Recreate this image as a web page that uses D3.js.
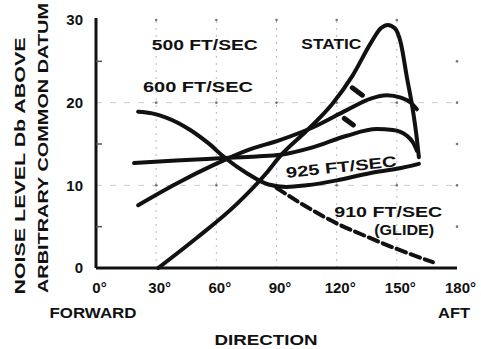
<!DOCTYPE html>
<html>
<head>
<meta charset="utf-8">
<script src="https://cdn.jsdelivr.net/npm/d3@7"></script>
<style>
  body { margin: 0; background: #fff; }
  text { font-family: "Liberation Sans", Arial, sans-serif; font-weight: bold; fill: #111; }
</style>
</head>
<body>
<svg id="chart" width="481" height="349"></svg>
<script>
'use strict';

// direction (deg) vs noise level (dB)
const staticCurve = [[31,0],[50,3.6],[70,7.7],[85,11.5],[92,13.6],[105,16.6],[118,19.9],[128,23.3],[137,27.2],[142,29],[145.5,29.4],[149,29],[152,27.2],[155,23.1],[158,19.1],[160,15.6],[161,13.4]];
const speed500 = [[21,7.6],[40,10.2],[59,12.5],[75,14.2],[92,15.5],[108,17],[125,19.1],[137,20.5],[145,20.9],[152,20.6],[157,20],[160,19.2]];
const speed600 = [[19,12.7],[40,13],[64,13.3],[80,13.5],[92,13.7],[108,14.6],[125,16],[140,16.8],[148,16.7],[155,16],[158,15.2],[160,14.2]];
const speed925 = [[21,18.9],[28,18.7],[35,18.2],[47,16.7],[56,15.1],[64,13.4],[75,11.5],[86,10.1],[95,9.8],[105,10],[120,10.6],[137,11.5],[150,12],[161,12.6]];
const glide910 = [[90,9.7],[105,7.4],[120,5.4],[135,3.8],[150,2.3],[168,0.7]];

const xTicks = [0, 30, 60, 90, 120, 150, 180];
const yTicks = [0, 10, 20, 30];
const gridX = [30, 60, 90, 120, 150];
const gridY = [10, 20];

let svg = d3.select("#chart");

let x = d3.scaleLinear().domain([0, 180]).range([96, 457]),
    y = d3.scaleLinear().domain([0, 30]).range([268, 20]);

// dotted grid
let grid = svg.append("g").attr("class", "grid");
grid.selectAll("line.gx").data(gridX).enter().append("line")
    .attr("x1", d => x(d)).attr("x2", d => x(d))
    .attr("y1", y(0)).attr("y2", y(30))
    .style("stroke", "#bbb").style("stroke-width", 1)
    .style("stroke-dasharray", "2,5");
grid.selectAll("line.gy").data(gridY).enter().append("line")
    .attr("x1", x(0)).attr("x2", x(180))
    .attr("y1", d => y(d)).attr("y2", d => y(d))
    .style("stroke", "#ccc").style("stroke-width", 1)
    .style("stroke-dasharray", "6,8");

// dots where the grid crosses and along top / right edge
let dots = [];
gridX.forEach(function(g) { [10, 20, 30].forEach(v => dots.push([g, v])); });
[5, 10, 15, 20, 25].forEach(v => dots.push([180, v]));
grid.selectAll("circle").data(dots).enter().append("circle")
    .attr("cx", d => x(d[0])).attr("cy", d => y(d[1]))
    .attr("r", 1.3).attr("fill", "#777");

// axes
let xAxis = d3.axisBottom(x).tickValues(xTicks).tickSize(0).tickPadding(14)
    .tickFormat(d => d + "°");
let gx = svg.append("g").attr("transform", "translate(0," + y(0) + ")").call(xAxis);
gx.select(".domain").attr("d", "M" + x(0) + ",0H" + x(180))
    .style("stroke", "#111").style("stroke-width", 3);
gx.selectAll("text").style("font-size", "15px").attr("dx", "3").attr("dy", "0.72em");

let yAxis = d3.axisLeft(y).tickValues(yTicks).tickSize(0).tickPadding(13)
    .tickFormat(d3.format("d"));
let gy = svg.append("g").attr("transform", "translate(" + x(0) + ",0)").call(yAxis);
gy.select(".domain").attr("d", "M0," + (y(30) - 2) + "V" + y(0))
    .style("stroke", "#111").style("stroke-width", 3);
gy.selectAll("text").style("font-size", "15px");
gy.selectAll("line.minor").data([5, 15, 25]).enter().append("line")
    .attr("class", "minor")
    .attr("x1", 0).attr("x2", 6)
    .attr("y1", d => y(d)).attr("y2", d => y(d))
    .style("stroke", "#555").style("stroke-width", 1.5);

// curves
let line = d3.line()
    .x(d => x(d[0]))
    .y(d => y(d[1]))
    .curve(d3.curveMonotoneX);

let series = [
    { data: staticCurve, dash: null },
    { data: speed500, dash: null },
    { data: speed600, dash: null },
    { data: speed925, dash: null },
    { data: glide910, dash: "10,5" }
];
svg.append("g").selectAll("path").data(series).enter().append("path")
    .attr("d", d => line(d.data))
    .attr("fill", "none")
    .style("stroke", "#111")
    .style("stroke-width", 4)
    .style("stroke-linecap", "round")
    .style("stroke-dasharray", d => d.dash);

// leader dashes pointing at the 500 / 600 ft/sec curves
let leaders = [[[127.8, 21.8], [132.8, 20.9]], [[123.8, 18.1], [128.3, 17.3]]];
svg.append("g").selectAll("line").data(leaders).enter().append("line")
    .attr("x1", d => x(d[0][0])).attr("y1", d => y(d[0][1]))
    .attr("x2", d => x(d[1][0])).attr("y2", d => y(d[1][1]))
    .style("stroke", "#111").style("stroke-width", 5).style("stroke-linecap", "round");

// curve labels: text, start (deg, dB), width, rotation
let labels = [
    ["500 FT/SEC", 27.8, 26.4, 106, 0],
    ["600 FT/SEC", 23.4, 21.3, 110, 0],
    ["STATIC", 102.4, 26.5, 60, 0],
    ["925 FT/SEC", 95, 10.9, 111, -6],
    ["910 FT/SEC", 118.8, 6.2, 108, 0],
    ["(GLIDE)", 138.7, 4.0, 60, 0]
];
svg.append("g").selectAll("text").data(labels).enter().append("text")
    .attr("transform", d => "translate(" + x(d[1]) + "," + y(d[2]) + ") rotate(" + d[4] + ")")
    .attr("textLength", d => d[3])
    .attr("lengthAdjust", "spacingAndGlyphs")
    .style("font-size", "15px")
    .text(d => d[0]);

// axis titles
function title(txt, tx, ty, len, rot) {
    svg.append("text")
        .attr("transform", "translate(" + tx + "," + ty + ") rotate(" + rot + ")")
        .attr("text-anchor", "middle")
        .attr("textLength", len)
        .attr("lengthAdjust", "spacingAndGlyphs")
        .style("font-size", "15px")
        .text(txt);
}
title("FORWARD", 93, 318, 87, 0);
title("AFT", 454, 318, 32, 0);
title("DIRECTION", 266, 345, 103, 0);
title("NOISE LEVEL Db ABOVE", 25, 166, 257, -90);
title("ARBITRARY COMMON DATUM", 48, 148, 290, -90);
</script>
</body>
</html>
